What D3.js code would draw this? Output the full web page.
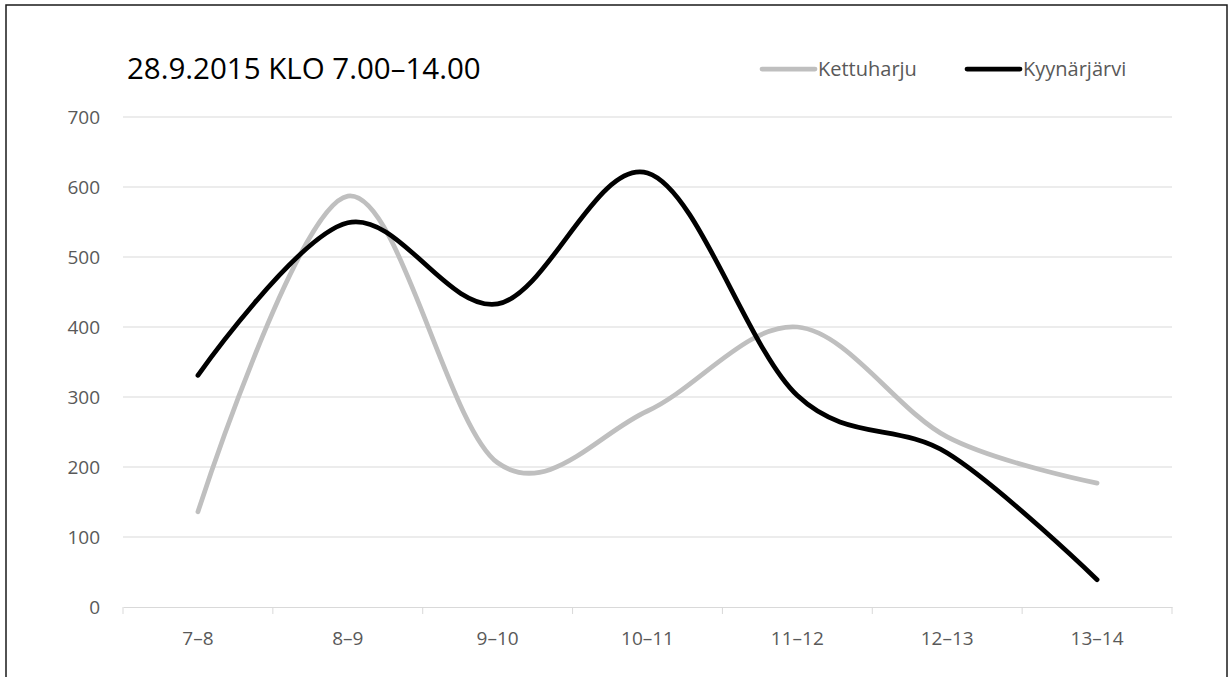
<!DOCTYPE html>
<html>
<head>
<meta charset="utf-8">
<script src="https://cdn.jsdelivr.net/npm/d3@7"></script>
<style>
  body { margin: 0; background: #fff; }
  text { font-family: "Open Sans", "Noto Sans", sans-serif; }
</style>
</head>
<body>
<svg id="chart" width="1229" height="677"></svg>
<script>
// data
var categories = ["7–8", "8–9", "9–10", "10–11", "11–12", "12–13", "13–14"];
var kettuharju = [136, 587, 206, 280, 400, 243, 177];
var kyynarjarvi = [331, 549, 433, 620, 302, 220, 39];
var yTicks = [0, 100, 200, 300, 400, 500, 600, 700];
var seriesNames = ["Kettuharju", "Kyynärjärvi"];
var seriesColors = ["#bfbfbf", "#000000"];

var svg = d3.select("#chart");

// outer frame
svg.append("rect")
  .attr("x", 6).attr("y", 5)
  .attr("width", 1221).attr("height", 700)
  .attr("fill", "none")
  .attr("stroke", "#1a1a1a")
  .attr("stroke-width", 1.5);

var plotLeft = 123, plotRight = 1172, plotTop = 117, plotBottom = 607;

var x = d3.scaleBand().domain(categories).range([plotLeft, plotRight]);
var y = d3.scaleLinear().domain([0, 700]).range([plotBottom, plotTop]);

// gridlines
svg.append("g")
  .selectAll("line")
  .data(yTicks.slice(1))
  .enter().append("line")
  .attr("x1", plotLeft).attr("x2", plotRight)
  .attr("y1", function(d) { return y(d); })
  .attr("y2", function(d) { return y(d); })
  .attr("stroke", "#d9d9d9")
  .attr("stroke-width", 1);

// y labels
svg.append("g")
  .selectAll("text")
  .data(yTicks)
  .enter().append("text")
  .attr("x", 100)
  .attr("y", function(d) { return y(d) + 7; })
  .attr("text-anchor", "end")
  .attr("font-size", 19)
  .attr("fill", "#595959")
  .text(function(d) { return d; });

// x axis
var xAxis = svg.append("g")
  .attr("transform", "translate(0," + plotBottom + ")")
  .call(d3.axisBottom(x).tickSize(0).tickPadding(0).tickSizeOuter(0));
xAxis.select(".domain").attr("stroke", "#d9d9d9");
xAxis.selectAll(".tick text")
  .attr("dy", null)
  .attr("y", 38)
  .attr("font-size", 19)
  .attr("fill", "#595959")
  .attr("font-family", "Open Sans, sans-serif");

// tick marks between categories
svg.append("g")
  .selectAll("line")
  .data(categories.concat(["end"]))
  .enter().append("line")
  .attr("x1", function(d, i) { return plotLeft + i * x.bandwidth(); })
  .attr("x2", function(d, i) { return plotLeft + i * x.bandwidth(); })
  .attr("y1", plotBottom).attr("y2", plotBottom + 7)
  .attr("stroke", "#d9d9d9");

// lines
var line = d3.line()
  .x(function(d, i) { return x(categories[i]) + x.bandwidth() / 2; })
  .y(function(d) { return y(d); })
  .curve(d3.curveCatmullRom.alpha(0));

[kettuharju, kyynarjarvi].forEach(function(s, k) {
  svg.append("path")
    .datum(s)
    .attr("d", line)
    .attr("fill", "none")
    .attr("stroke", seriesColors[k])
    .attr("stroke-width", 4.75)
    .attr("stroke-linecap", "round")
    .attr("stroke-linejoin", "round");
});

// title
svg.append("text")
  .attr("x", 127).attr("y", 79)
  .attr("font-family", "Lato, sans-serif")
  .attr("font-size", 29.5)
  .attr("fill", "#000")
  .text("28.9.2015 KLO 7.00–14.00");

// legend
var legendX = [762, 967];
seriesNames.forEach(function(n, k) {
  svg.append("line")
    .attr("x1", legendX[k]).attr("x2", legendX[k] + 53)
    .attr("y1", 69).attr("y2", 69)
    .attr("stroke", seriesColors[k])
    .attr("stroke-width", 4.75)
    .attr("stroke-linecap", "round");
  svg.append("text")
    .attr("x", legendX[k] + 56).attr("y", 76)
    .attr("font-size", 20)
    .attr("fill", "#595959")
    .text(n);
});
</script>
</body>
</html>
